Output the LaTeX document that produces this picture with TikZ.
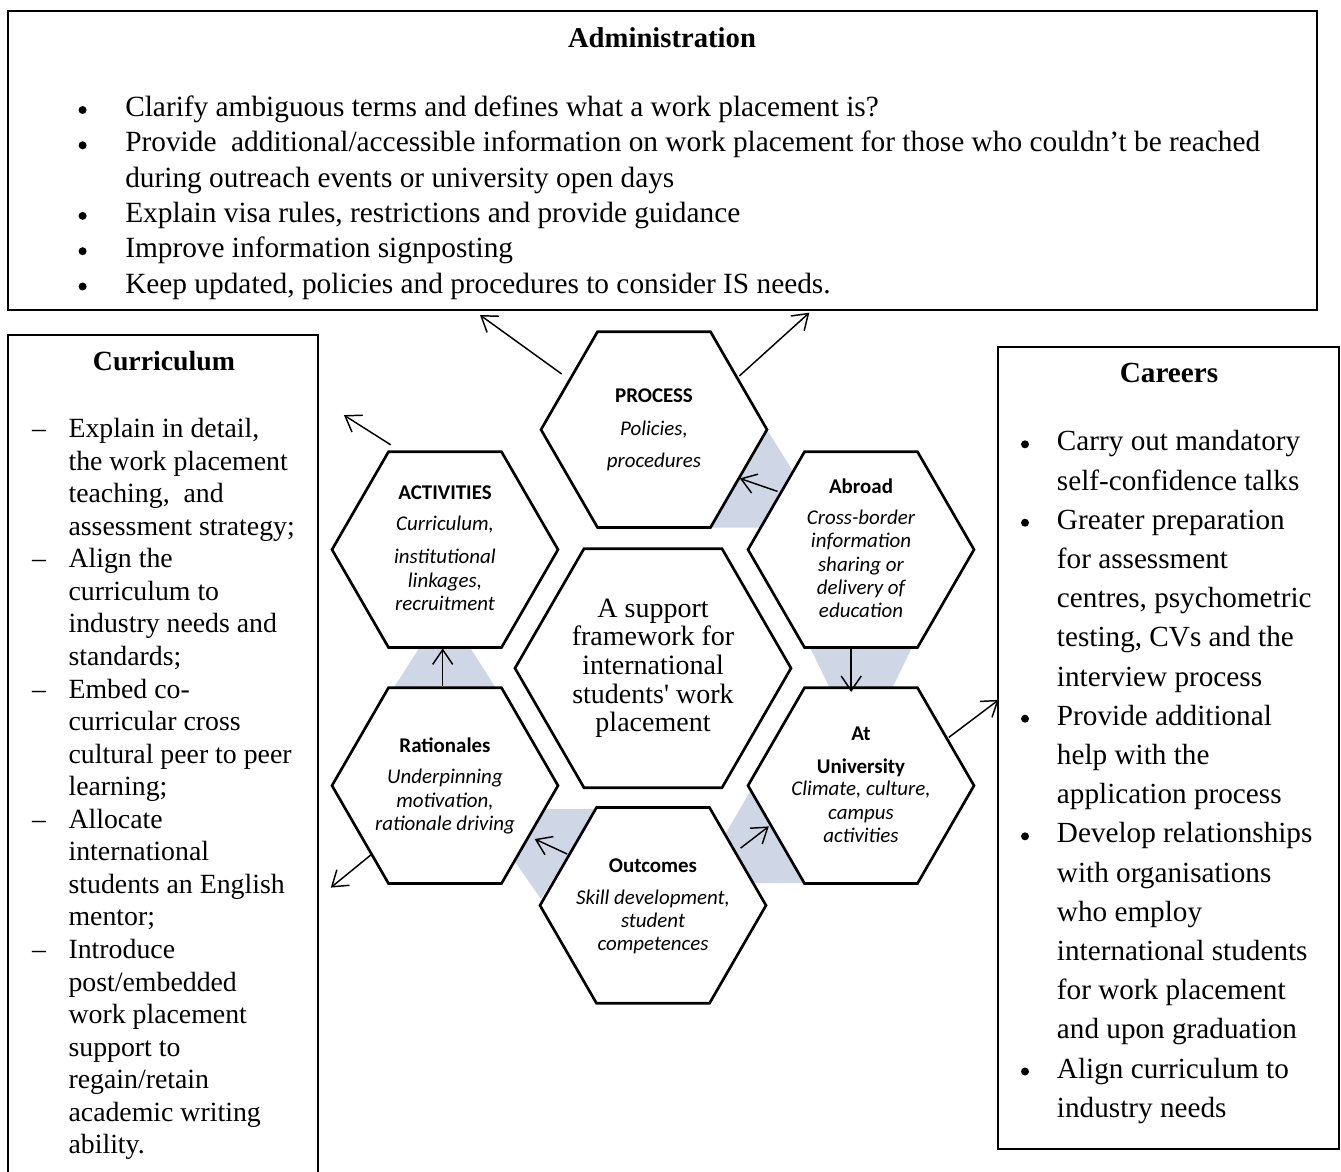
\documentclass[tikz,border=0pt]{standalone}
\usepackage{fontspec}
\setmainfont{Liberation Serif}
\newfontfamily\rawserif{Liberation Serif}[Ligatures=TeXOff]
\newfontfamily\calfont{Carlito}
\usetikzlibrary{arrows.meta}
\definecolor{shadeblue}{RGB}{207,214,230}
\newcommand\drawhex[4]{%
  \coordinate (#1) at (#2,#3);
  \draw[hexline] (#1) ++(0:#4) -- ++(120:#4) -- ++(180:#4) -- ++(240:#4) -- ++(300:#4) -- ++(0:#4) -- cycle;}
\begin{document}
\begin{tikzpicture}[x=0.75pt,y=-0.75pt,
  box/.style={draw, line width=1.5pt, inner sep=0pt, outer sep=0pt},
  hexline/.style={draw=black, line width=2pt, fill=white, line join=miter},
  arr/.style={line width=1.1pt, -{Straight Barb[length=11pt,width=15pt]}},
  htitle/.style={font=\calfont\bfseries\fontsize{15.7}{18}\selectfont, inner sep=0pt, anchor=base, yshift=-4.5pt},
  hdesc/.style={font=\calfont\itshape\fontsize{15.7}{18}\selectfont, inner sep=0pt, anchor=base, yshift=-3.8pt},
  ctext/.style={font=\fontsize{21}{24}\selectfont, inner sep=0pt, anchor=base, yshift=-4.7pt},
  boxtitle/.style={font=\bfseries\fontsize{21.5}{26}\selectfont, inner sep=0pt, anchor=base, yshift=-5.5pt},
  admt/.style={font=\fontsize{22}{26}\selectfont, inner sep=0pt, anchor=base west, yshift=-5pt},
  curt/.style={font=\fontsize{20.85}{24}\selectfont, inner sep=0pt, anchor=base west, yshift=-4.7pt},
  cart/.style={font=\fontsize{21.9}{26}\selectfont, inner sep=0pt, anchor=base west, yshift=-4.9pt},
  bul/.style={circle, fill=black, inner sep=0pt, minimum size=6pt},
  dashmark/.style={inner sep=0pt, anchor=base, yshift=-4.7pt}
]
\useasboundingbox (0,0) rectangle (1341,1171);

% ---- boxes
\node[box, minimum width=981.5pt, minimum height=224.25pt] (admin) at (662.35,160.5) {};
\node[box, minimum width=231.9pt, minimum height=641.1pt] (curr) at (162.9,762.6) {};
\node[box, minimum width=255.5pt, minimum height=601.7pt] (careers) at (1168.65,748.15) {};

% ---- shaded connections
\fill[shadeblue] (767,429.6) -- (710.5,527.5) -- (828,527.5) -- cycle;
\fill[shadeblue] (810,647.5) -- (912,647.5) -- (861,752) -- cycle;
\fill[shadeblue] (393.7,687.7) -- (495.6,687.7) -- (445,608) -- cycle;
\fill[shadeblue] (596,809) -- (478,809) -- (541,899) -- cycle;
\fill[shadeblue] (752,788) -- (697,883) -- (804.5,883) -- cycle;

% ---- hexagons
\drawhex{hprocess}{654}{429.6}{113}
\drawhex{hactiv}{445}{549.6}{113}
\drawhex{habroad}{861}{549.6}{113}
\drawhex{hration}{445}{785.6}{113}
\drawhex{hatuni}{861}{785.6}{113}
\drawhex{houtc}{653}{905.4}{113}
\drawhex{hcenter}{653}{668.2}{138}

% ---- arrow end points
\coordinate (a1s) at (777.5,491.4); \coordinate (a1e) at (739.8,478.4);
\coordinate (a2s) at (851.2,647.6); \coordinate (a2e) at (851.2,692);
\coordinate (a3s) at (442.7,686);   \coordinate (a3e) at (442.7,648.4);
\coordinate (a4s) at (567.2,854);   \coordinate (a4e) at (534.7,839);
\coordinate (a5s) at (740.6,848.1); \coordinate (a5e) at (768.8,826.4);
\coordinate (a6s) at (561.7,374);   \coordinate (a6e) at (480,315);
\coordinate (a7s) at (739.3,376);   \coordinate (a7e) at (809.3,312.7);
\coordinate (a8s) at (390.7,444.8); \coordinate (a8e) at (343.9,415.1);
\coordinate (a9s) at (372,854);     \coordinate (a9e) at (330.8,887.6);
\coordinate (a10s) at (948.8,737.4); \coordinate (a10e) at (998.7,699.8);
\foreach \n in {1,...,10} \draw[arr] (a\n s) -- (a\n e);

% ---- hexagon texts
\node[htitle] (process-t) at (654,396.5) {PROCESS};
\node[hdesc] (process-1) at (654,430.2) {Policies,};
\node[hdesc] (process-2) at (654,462.6) {procedures};

\node[htitle] (activ-t) at (445,493.4) {ACTIVITIES};
\node[hdesc] (activ-1) at (445,525.8) {Curriculum,};
\node[hdesc] (activ-2) at (445,558.7) {institutional};
\node[hdesc] (activ-3) at (445,582) {linkages,};
\node[hdesc] (activ-4) at (445,605.7) {recruitment};

\node[htitle] (abroad-t) at (861,487.1) {Abroad};
\node[hdesc] (abroad-1) at (861,519.1) {Cross-border};
\node[hdesc] (abroad-2) at (861,542.8) {information};
\node[hdesc] (abroad-3) at (861,566.6) {sharing or};
\node[hdesc] (abroad-4) at (861,589.9) {delivery of};
\node[hdesc] (abroad-5) at (861,612.8) {education};

\node[htitle] (atuni-t1) at (861,734.6) {At};
\node[htitle] (atuni-t2) at (861,767.8) {University};
\node[hdesc] (atuni-1) at (861,790.8) {Climate, culture,};
\node[hdesc] (atuni-2) at (861,814.5) {campus};
\node[hdesc] (atuni-3) at (861,837.4) {activities};

\node[htitle] (ration-t) at (445,746.5) {Rationales};
\node[hdesc] (ration-1) at (445,778.9) {Underpinning};
\node[hdesc] (ration-2) at (445,802.6) {motivation,};
\node[hdesc] (ration-3) at (445,825.6) {rationale driving};

\node[htitle] (outc-t) at (653,866.7) {Outcomes};
\node[hdesc] (outc-1) at (653,899.9) {Skill development,};
\node[hdesc] (outc-2) at (653,922) {student};
\node[hdesc] (outc-3) at (653,945.8) {competences};

\node[ctext] (center-1) at (653,611.6) {A support};
\node[ctext] (center-2) at (653,639.3) {framework for};
\node[ctext] (center-3) at (653,668.2) {international};
\node[ctext, font=\rawserif\fontsize{21}{24}\selectfont] (center-4) at (653,697) {students' work};
\node[ctext] (center-5) at (653,725.5) {placement};

% ---- Administration
\node[boxtitle] (admin-t) at (662,40) {Administration};
\foreach \t [count=\k] in {{Clarify ambiguous terms and defines what a work placement is?},
  {Provide\ \ additional/accessible information on work placement for those who couldn’t be reached},
  {during outreach events or university open days},
  {Explain visa rules, restrictions and provide guidance},
  {Improve information signposting},
  {Keep updated, policies and procedures to consider IS needs.}}
  \node[admt] (admin-\k) at (125,{110+(\k-1)*35.3}) {\t};
\foreach \k in {1,2,4,5,6}
  \node[bul] (adminb-\k) at (82.6,{110+(\k-1)*35.3}) {};

% ---- Curriculum
\node[boxtitle, font=\bfseries\fontsize{20.85}{24}\selectfont] (curr-t) at (164,363.4) {Curriculum};
\foreach \t [count=\k] in {{Explain in detail,},{the work placement},{teaching,\ \ and},{assessment strategy;},
  {Align the},{curriculum to},{industry needs and},{standards;},
  {Embed co-},{curricular cross},{cultural peer to peer},{learning;},
  {Allocate},{international},{students an English},{mentor;},
  {Introduce},{post/embedded},{work placement},{support to},{regain/retain},{academic writing},{ability.}}
  \node[curt] (curr-\k) at (68.3,{431.3+(\k-1)*32.56}) {\t};
\foreach \k in {1,5,9,13,17}
  \node[dashmark, font=\fontsize{20.85}{24}\selectfont] (currd-\k) at (39,{431.3+(\k-1)*32.56}) {–};

% ---- Careers
\node[boxtitle, font=\bfseries\fontsize{21.9}{26}\selectfont] (careers-t) at (1169,375) {Careers};
\foreach \t [count=\k] in {{Carry out mandatory},{self-confidence talks},{Greater preparation},{for assessment},
  {centres, psychometric},{testing, CVs and the},{interview process},
  {Provide additional},{help with the},{application process},
  {Develop relationships},{with organisations},{who employ},{international students},{for work placement},{and upon graduation},
  {Align curriculum to},{industry needs}}
  \node[cart] (careers-\k) at (1056.7,{444.3+(\k-1)*39.2}) {\t};
\foreach \k in {1,3,8,11,17}
  \node[bul] (careersb-\k) at (1025,{444.3+(\k-1)*39.2}) {};
\end{tikzpicture}
\end{document}
